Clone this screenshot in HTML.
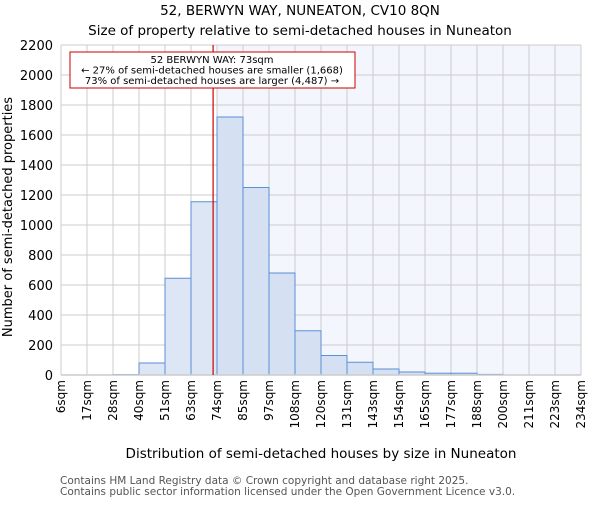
<!DOCTYPE html>
<html><head><meta charset="utf-8"><style>
body{margin:0;background:#fff;}
svg text{font-family:"DejaVu Sans","Liberation Sans",sans-serif;}
</style></head><body>
<svg id="chart" width="600" height="500" viewBox="0 0 600 500" xmlns="http://www.w3.org/2000/svg">
<text x="300" y="15" text-anchor="middle" font-size="13.5">52, BERWYN WAY, NUNEATON, CV10 8QN</text>
<text x="300" y="35" text-anchor="middle" font-size="13.5">Size of property relative to semi-detached houses in Nuneaton</text>
<g id="plot"></g>
<text x="321" y="458" text-anchor="middle" font-size="13.5">Distribution of semi-detached houses by size in Nuneaton</text>
<text transform="translate(12,217) rotate(-90)" text-anchor="middle" font-size="13">Number of semi-detached properties</text>
<text x="60" y="484" font-size="10.5" fill="#555">Contains HM Land Registry data © Crown copyright and database right 2025.</text>
<text x="60" y="495" font-size="10.5" fill="#555">Contains public sector information licensed under the Open Government Licence v3.0.</text>
</svg>
<script>
const binLabels=["6sqm","17sqm","28sqm","40sqm","51sqm","63sqm","74sqm","85sqm","97sqm","108sqm","120sqm","131sqm","143sqm","154sqm","165sqm","177sqm","188sqm","200sqm","211sqm","223sqm","234sqm"];
const counts=[0,0,3,80,645,1155,1720,1250,680,295,130,85,40,20,12,12,4,0,0,0];
const yTicks=[0,200,400,600,800,1000,1200,1400,1600,1800,2000,2200];
const markerIndex=5.85;
const annotationLines=["52 BERWYN WAY: 73sqm","← 27% of semi-detached houses are smaller (1,668)","73% of semi-detached houses are larger (4,487) →"];
const NS="http://www.w3.org/2000/svg";
const L=61,R=581,T=45,B=375,yMax=2200;
const bw=(R-L)/counts.length;
const xs=i=>L+i*bw;
const ys=v=>B-(v/yMax)*(B-T);
const g=document.getElementById('plot');
function mk(tag,attrs){const e=document.createElementNS(NS,tag);for(const k in attrs)e.setAttribute(k,attrs[k]);g.appendChild(e);return e;}
let e;
e=mk('rect',{x:xs(6),y:T,width:R-xs(6),height:B-T,fill:'#f3f6fd'});


for(let i=0;i<binLabels.length;i++){
 e=mk('line',{x1:xs(i),x2:xs(i),y1:T,y2:B,stroke:'#cccccc','stroke-width':1});
 
 
 e=mk('text',{transform:`translate(${xs(i)+4},380) rotate(-90)`,'text-anchor':'end','font-size':12});
 e.textContent=binLabels[i];
 
 
}
yTicks.forEach(v=>{
 e=mk('line',{x1:L,x2:R,y1:ys(v),y2:ys(v),stroke:'#cccccc','stroke-width':1});
 
 
 e=mk('text',{x:L-8,y:ys(v)+5,'text-anchor':'end','font-size':13});
 e.textContent=v;
 
 
});
counts.forEach((c,i)=>{
 if(c<=0)return;
 e=mk('rect',{x:xs(i),y:ys(c),width:bw,height:B-ys(c),fill:i>=6?'#d5e1f3':'#dde6f4',stroke:'#5b8fd6','stroke-width':1});
 
 
});
e=mk('line',{x1:L,x2:R,y1:B,y2:B,stroke:'#cccccc','stroke-width':1.5});


const mx=xs(markerIndex);
e=mk('line',{x1:mx,x2:mx,y1:T,y2:B,stroke:'#cc0000','stroke-width':1.2});


e=mk('rect',{x:70,y:52,width:285,height:36,fill:'#fff',stroke:'#cc0000','stroke-width':1});


annotationLines.forEach((t,k)=>{
 e=mk('text',{x:212,y:63+k*10.5,'text-anchor':'middle','font-size':10});
 e.textContent=t;
 
 
});
</script>
</body></html>
